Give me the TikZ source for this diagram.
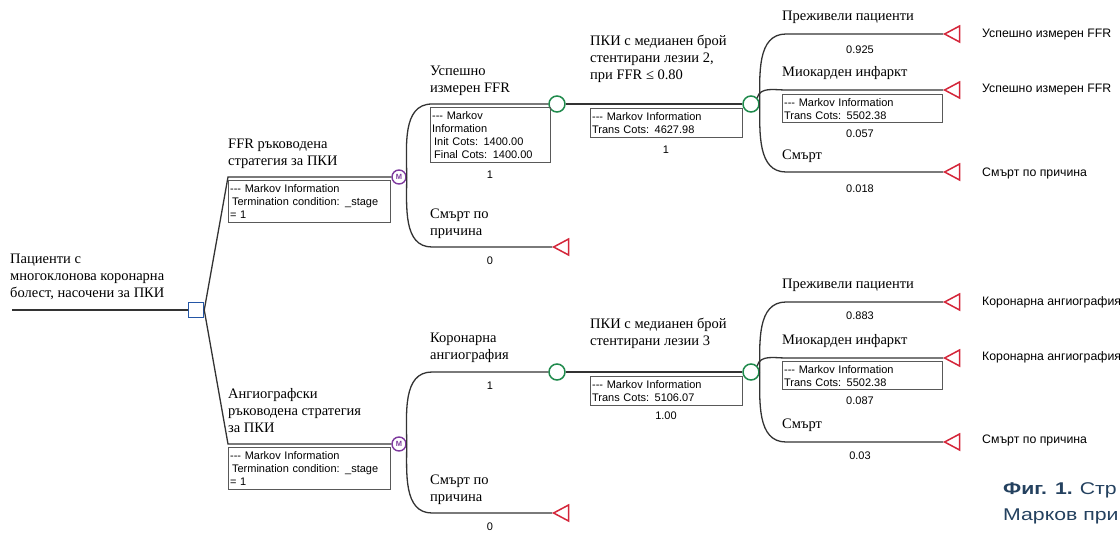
\documentclass[tikz,border=0pt]{standalone}
\usepackage{fontspec}
\setmainfont{Liberation Serif}
\setsansfont{Liberation Sans}
\newfontfamily\capfont[FakeStretch=1.25]{Liberation Sans}
\usetikzlibrary{shapes.geometric}
\definecolor{decblue}{HTML}{2456A6}
\definecolor{markovpurple}{HTML}{7E3A9E}
\definecolor{chancegreen}{HTML}{1F8A4C}
\definecolor{termred}{HTML}{D4263A}
\definecolor{captionblue}{HTML}{24415F}
\begin{document}
\begin{tikzpicture}[x=1pt,y=1pt,
    branch/.style={draw=black!80, line width=1.3pt},
    decnode/.style={rectangle, draw=decblue, line width=1.5pt, fill=white, minimum size=15pt, inner sep=0},
    markovnode/.style={circle, draw=markovpurple, line width=1.4pt, fill=white, minimum size=14pt, inner sep=0,
      text=markovpurple, font=\sffamily\bfseries\fontsize{7.5}{7.5}\selectfont},
    chancenode/.style={circle, draw=chancegreen, line width=1.5pt, fill=white, minimum size=16pt, inner sep=0},
    termnode/.style={isosceles triangle, isosceles triangle apex angle=56, isosceles triangle stretches,
      shape border rotate=180, draw=termred, line width=1.5pt, fill=white, inner sep=0,
      minimum width=16pt, minimum height=15pt, anchor=apex},
    lbl/.style={anchor=south west, align=left, inner sep=0, font=\fontsize{14.5}{17}\selectfont,
      execute at end node=\strut},
    prob/.style={inner sep=0, font=\sffamily\fontsize{11}{13}\selectfont},
    infobox/.style={anchor=north west, draw=black!65, line width=1.2pt, align=left, inner sep=1.5pt,
      font=\sffamily\fontsize{11}{13}\selectfont},
    endlbl/.style={anchor=west, inner sep=0, font=\sffamily\fontsize{12.3}{14}\selectfont},
    caption/.style={anchor=west, inner sep=0, text=captionblue, font=\capfont\fontsize{17}{20}\selectfont}]
  \useasboundingbox (0,0) rectangle (1120,-533);

  % root decision
  \coordinate (r0) at (12,-310);
  \node[decnode] (d0) at (196,-310) {};
  \node[lbl] (l0) at (10,-303) {Пациенти с\\многоклонова коронарна\\болест, насочени за ПКИ};
  \draw[branch] (r0) -- (d0);

  % strategies
  \coordinate (k1) at (228,-177);
  \coordinate (k2) at (228,-444);
  \node[markovnode] (m1) at (399,-177) {M};
  \node[markovnode] (m2) at (399,-444) {M};
  \draw[branch] (d0.east) -- (k1) -- (m1);
  \draw[branch] (d0.east) -- (k2) -- (m2);
  \node[lbl] (l1) at (228,-171) {FFR ръководена\\стратегия за ПКИ};
  \node[lbl] (l2) at (228,-438) {Ангиографски\\ръководена стратегия\\за ПКИ};
  \node[infobox, text width=159pt, minimum height=42pt] (i1) at (228,-180)
    {-{}-{}- Markov Information\\\hspace*{2pt}Termination condition: \_stage\\= 1};
  \node[infobox, text width=159pt, minimum height=42pt] (i2) at (228,-447)
    {-{}-{}- Markov Information\\\hspace*{2pt}Termination condition: \_stage\\= 1};

  % upper markov node
  \coordinate (e11) at (432,-104);
  \coordinate (e12) at (432,-247);
  \node[chancenode] (c1) at (557,-104) {};
  \node[termnode] (t1) at (552,-247) {};
  \draw[branch] (m1.east) to[out=90,in=180] (e11) -- (c1);
  \draw[branch] (m1.east) to[out=-90,in=180] (e12) -- (t1);
  \node[lbl] (l11) at (430,-98) {Успешно\\измерен FFR};
  \node[lbl] (l12) at (430,-241) {Смърт по\\причина};
  \node[infobox, text width=117pt, minimum height=55pt] (i11) at (430,-107)
    {-{}-{}- Markov\\Information\\\hspace*{2pt}Init Cots: 1400.00\\\hspace*{2pt}Final Cots: 1400.00};
  \node[prob] (p11) at (490,-175) {1};
  \node[prob] (p12) at (490,-261) {0};

  \node[chancenode] (c2) at (751,-104) {};
  \draw[branch] (c1) -- (c2);
  \node[lbl] (l13) at (590,-85) {ПКИ с медианен брой\\стентирани лезии 2,\\при FFR ≤ 0.80};
  \node[infobox, text width=149pt, minimum height=29pt] (i13) at (590,-108)
    {-{}-{}- Markov Information\\Trans Cots: 4627.98};
  \node[prob] (p13) at (666,-150) {1};

  \coordinate (e21) at (786,-34);
  \coordinate (e22) at (786,-90);
  \coordinate (e23) at (786,-172);
  \node[termnode] (t21) at (943,-34) {};
  \node[termnode] (t22) at (943,-90) {};
  \node[termnode] (t23) at (943,-172) {};
  \draw[branch] (c2.east) to[out=90,in=180] (e21) -- (t21);
  \draw[branch] (c2.north east) to[out=75,in=180] (e22) -- (t22);
  \draw[branch] (c2.east) to[out=-90,in=180] (e23) -- (t23);
  \node[lbl] (l21) at (782,-26) {Преживели пациенти};
  \node[lbl] (l22) at (782,-82) {Миокарден инфаркт};
  \node[lbl] (l23) at (782,-165) {Смърт};
  \node[infobox, text width=157pt, minimum height=28pt] (i22) at (782,-94)
    {-{}-{}- Markov Information\\Trans Cots: 5502.38};
  \node[prob] (p21) at (860,-50) {0.925};
  \node[prob] (p22) at (860,-134) {0.057};
  \node[prob] (p23) at (860,-189) {0.018};
  \node[endlbl] (n21) at (982,-35) {Успешно измерен FFR};
  \node[endlbl] (n22) at (982,-90) {Успешно измерен FFR};
  \node[endlbl] (n23) at (982,-173) {Смърт по причина};

  % lower markov node
  \coordinate (e31) at (432,-372);
  \coordinate (e32) at (432,-513);
  \node[chancenode] (c3) at (557,-372) {};
  \node[termnode] (t3) at (552,-513) {};
  \draw[branch] (m2.east) to[out=90,in=180] (e31) -- (c3);
  \draw[branch] (m2.east) to[out=-90,in=180] (e32) -- (t3);
  \node[lbl] (l31) at (430,-365) {Коронарна\\ангиография};
  \node[lbl] (l32) at (430,-507) {Смърт по\\причина};
  \node[prob] (p31) at (490,-386) {1};
  \node[prob] (p32) at (490,-527) {0};

  \node[chancenode] (c4) at (751,-372) {};
  \draw[branch] (c3) -- (c4);
  \node[lbl] (l33) at (590,-351) {ПКИ с медианен брой\\стентирани лезии 3};
  \node[infobox, text width=149pt, minimum height=29pt] (i33) at (590,-376)
    {-{}-{}- Markov Information\\Trans Cots: 5106.07};
  \node[prob] (p33) at (666,-416) {1.00};

  \coordinate (e41) at (786,-302);
  \coordinate (e42) at (786,-358);
  \coordinate (e43) at (786,-442);
  \node[termnode] (t41) at (943,-302) {};
  \node[termnode] (t42) at (943,-358) {};
  \node[termnode] (t43) at (943,-442) {};
  \draw[branch] (c4.east) to[out=90,in=180] (e41) -- (t41);
  \draw[branch] (c4.north east) to[out=75,in=180] (e42) -- (t42);
  \draw[branch] (c4.east) to[out=-90,in=180] (e43) -- (t43);
  \node[lbl] (l41) at (782,-294) {Преживели пациенти};
  \node[lbl] (l42) at (782,-350) {Миокарден инфаркт};
  \node[lbl] (l43) at (782,-434) {Смърт};
  \node[infobox, text width=157pt, minimum height=28pt] (i42) at (782,-361)
    {-{}-{}- Markov Information\\Trans Cots: 5502.38};
  \node[prob] (p41) at (860,-316) {0.883};
  \node[prob] (p42) at (860,-401) {0.087};
  \node[prob] (p43) at (860,-456) {0.03};
  \node[endlbl] (n41) at (982,-302) {Коронарна ангиография};
  \node[endlbl] (n42) at (982,-357) {Коронарна ангиография};
  \node[endlbl] (n43) at (982,-440) {Смърт по причина};

  % caption (cut at the edge)
  \node[caption] (cap1) at (1003,-490) {\textbf{Фиг.}\hspace{8pt}\textbf{1.}\hspace{7pt}Стр};
  \node[caption] (cap2) at (1003,-516) {Марков при};
\end{tikzpicture}
\end{document}
